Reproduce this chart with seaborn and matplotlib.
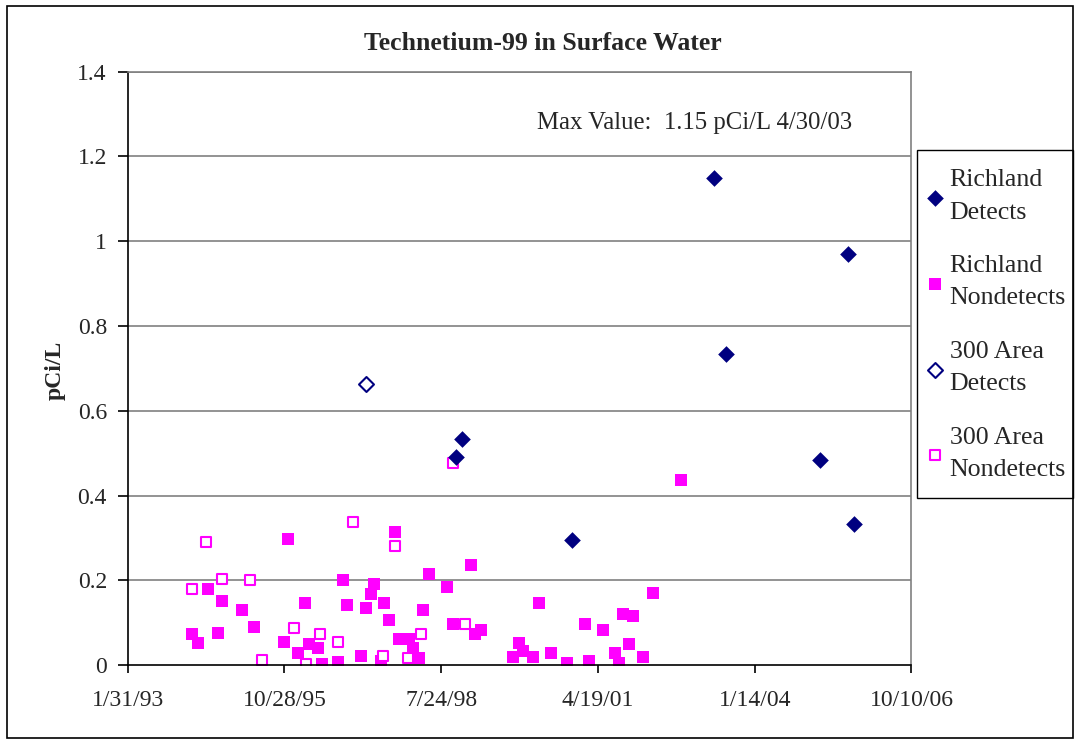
import matplotlib
matplotlib.use("Agg")
import matplotlib.pyplot as plt
import matplotlib.patches as mpatches
import pandas as pd
import seaborn as sns

# ---- data ----
richland_det_dates = ["1998-10-26", "1998-12-03", "2000-11-03", "2003-04-30",
                      "2003-07-15", "2005-03-07", "2005-09-02", "2005-10-10"]
richland_det_vals = [0.491, 0.533, 0.296, 1.15, 0.735, 0.485, 0.970, 0.334]

richland_nd_dates = [
    "1994-03-20", "1994-04-26", "1994-06-29", "1994-09-01", "1994-09-26",
    "1995-02-01", "1995-04-19", "1995-10-27", "1995-11-19", "1996-01-25",
    "1996-03-05", "1996-03-31", "1996-05-30", "1996-06-26", "1996-10-06",
    "1996-11-03", "1996-11-27", "1997-02-26", "1997-04-03", "1997-04-29",
    "1997-05-24", "1997-07-04", "1997-07-27", "1997-08-22", "1997-09-29",
    "1997-10-29", "1997-12-28", "1998-01-22", "1998-03-02", "1998-03-27",
    "1998-05-05", "1998-08-28", "1998-10-05", "1999-01-28", "1999-02-22",
    "1999-04-02", "1999-10-23", "1999-12-01", "1999-12-26", "2000-02-28",
    "2000-04-06", "2000-06-22", "2000-10-02", "2001-01-25", "2001-02-20",
    "2001-05-20", "2001-08-05", "2001-08-31", "2001-09-25", "2001-11-02",
    "2001-11-28", "2002-01-31", "2002-04-05", "2002-10-01",
]
richland_nd_vals = [
    0.073, 0.053, 0.181, 0.077, 0.152,
    0.130, 0.091, 0.054, 0.299, 0.030,
    0.148, 0.050, 0.040, 0.003, 0.007,
    0.200, 0.143, 0.021, 0.134, 0.168,
    0.191, 0.011, 0.148, 0.106, 0.314,
    0.063, 0.063, 0.040, 0.016, 0.130,
    0.215, 0.185, 0.097, 0.237, 0.073,
    0.083, 0.020, 0.053, 0.034, 0.020,
    0.148, 0.030, 0.006, 0.097, 0.011,
    0.083, 0.030, 0.006, 0.120, 0.050,
    0.116, 0.020, 0.171, 0.436,
]

area300_det_dates = ["1997-03-30"]
area300_det_vals = [0.664]

area300_nd_dates = [
    "1994-03-20", "1994-06-16", "1994-09-26", "1995-03-24", "1995-06-09",
    "1995-12-28", "1996-03-16", "1996-06-13", "1996-10-05", "1997-01-04",
    "1997-07-15", "1997-09-29", "1997-12-25", "1998-03-14", "1998-10-05",
    "1998-12-21",
]
area300_nd_vals = [
    0.181, 0.290, 0.204, 0.200, 0.012,
    0.087, 0.003, 0.073, 0.054, 0.337,
    0.022, 0.281, 0.016, 0.073, 0.478,
    0.097,
]

xtick_dates = ["1993-01-31", "1995-10-28", "1998-07-24",
               "2001-04-19", "2004-01-14", "2006-10-10"]
xtick_labels = ["1/31/93", "10/28/95", "7/24/98", "4/19/01", "1/14/04", "10/10/06"]
ytick_vals = [0, 0.2, 0.4, 0.6, 0.8, 1.0, 1.2, 1.4]
ytick_labels = ["0", "0.2", "0.4", "0.6", "0.8", "1", "1.2", "1.4"]

NAVY = "#000080"
MAGENTA = "#FF00FF"

sns.set_theme(style="white")
plt.rcParams["font.family"] = ["Liberation Serif", "DejaVu Serif"]


def frame(dates, vals):
    return pd.DataFrame({"date": pd.to_datetime(dates), "value": vals})


fig = plt.figure(figsize=(10.77, 7.42), dpi=100)
ax = fig.add_axes([0.1186, 0.1034, 0.7277, 0.8000])

sns.scatterplot(data=frame(richland_nd_dates, richland_nd_vals), x="date", y="value",
                marker="s", s=85, color=MAGENTA, linewidth=0, ax=ax,
                label="Richland\nNondetects", zorder=3)
sns.scatterplot(data=frame(area300_nd_dates, area300_nd_vals), x="date", y="value",
                marker="s", s=62, facecolor="white", edgecolor=MAGENTA, linewidth=1.5,
                ax=ax, label="300 Area\nNondetects", zorder=4)
sns.scatterplot(data=frame(richland_det_dates, richland_det_vals), x="date", y="value",
                marker="D", s=72, color=NAVY, linewidth=0, ax=ax,
                label="Richland\nDetects", zorder=5)
sns.scatterplot(data=frame(area300_det_dates, area300_det_vals), x="date", y="value",
                marker="D", s=58, facecolor="white", edgecolor=NAVY, linewidth=1.5,
                ax=ax, label="300 Area\nDetects", zorder=5)

ax.set_xlim(pd.Timestamp(xtick_dates[0]), pd.Timestamp(xtick_dates[-1]))
ax.set_ylim(0, 1.4)
ax.set_xticks(pd.to_datetime(xtick_dates))
ax.set_xticklabels(xtick_labels)
ax.set_yticks(ytick_vals)
ax.set_yticklabels(ytick_labels)
ax.set_xlabel("")
ax.set_ylabel("")

for v in ytick_vals[1:]:
    ax.axhline(v, color="#808080", linewidth=1.2, zorder=1)

for side in ["top", "right"]:
    ax.spines[side].set_color("#808080")
    ax.spines[side].set_linewidth(1.2)
for side in ["left", "bottom"]:
    ax.spines[side].set_color("black")
    ax.spines[side].set_linewidth(1.2)
ax.spines["bottom"].set_zorder(6)

ax.tick_params(axis="x", direction="out", length=6, width=1.2, color="black",
               labelsize=17, pad=12, bottom=True)
ax.tick_params(axis="y", direction="out", length=7, width=1.2, color="black",
               labelsize=17, pad=8, left=True)

ax.text(0.522, 0.9136, "Max Value:  1.15 pCi/L 4/30/03", transform=ax.transAxes,
        ha="left", va="center", fontsize=17.8)

fig.text(0.504, 0.942, "Technetium-99 in Surface Water", ha="center", va="center",
         fontsize=18.5, fontweight="bold")
fig.text(0.051, 1 - 370 / 742, "pCi/L", ha="center", va="center", rotation=90,
         fontsize=17, fontweight="bold")

# legend: entries placed without a frame, box drawn separately
handles, labels = ax.get_legend_handles_labels()
order = ["Richland\nDetects", "Richland\nNondetects", "300 Area\nDetects", "300 Area\nNondetects"]
hmap = dict(zip(labels, handles))
leg = ax.legend([hmap[k] for k in order], order, loc="upper left",
                bbox_to_anchor=(914 / 1077, 1 - 156 / 742), bbox_transform=fig.transFigure,
                fontsize=18.6, frameon=False,
                handlelength=0.58, handletextpad=0.28, labelspacing=1.22,
                borderpad=0.52, borderaxespad=0)
for t in leg.get_texts():
    t.set_linespacing(1.6)

fig.patches.append(mpatches.Rectangle((917 / 1077, 1 - 498 / 742), 156 / 1077, 348 / 742,
                                      transform=fig.transFigure, fill=False,
                                      edgecolor="black", linewidth=1.0))
fig.patches.append(mpatches.Rectangle((7 / 1077, 4 / 742), 1066 / 1077, 732 / 742,
                                      transform=fig.transFigure, fill=False,
                                      edgecolor="black", linewidth=1.2))

fig.savefig("out.png", dpi=100)
